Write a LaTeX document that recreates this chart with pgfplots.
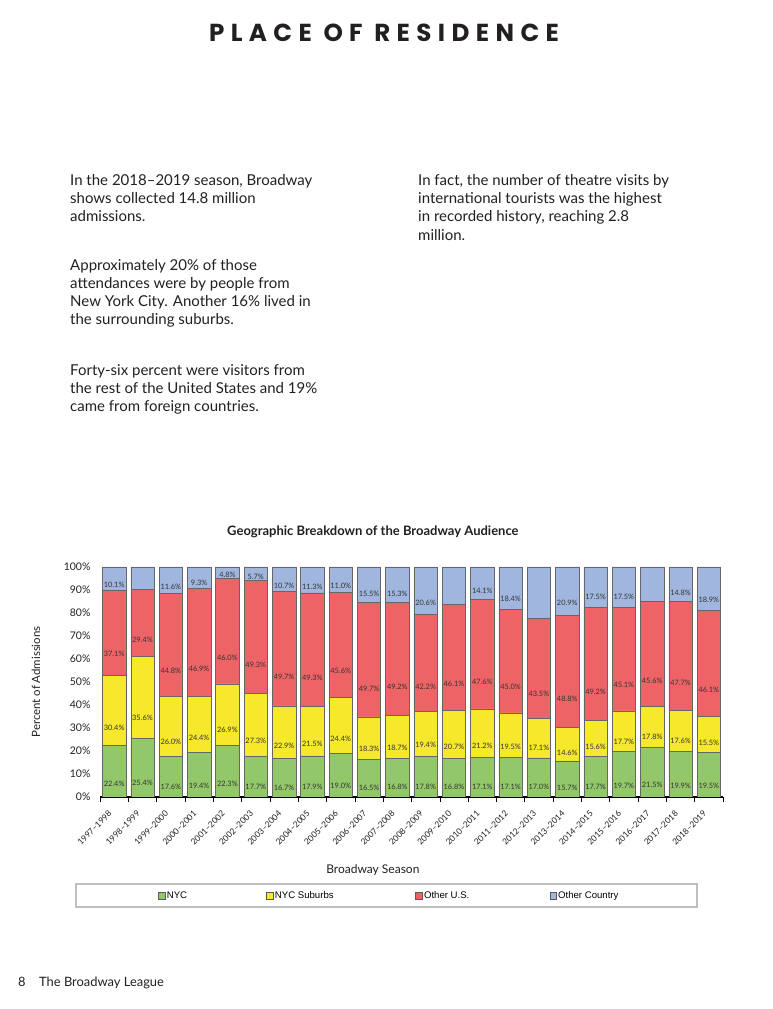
\documentclass[border=0pt]{standalone}
\usepackage{fontspec}
\setmainfont{Lato}
\newfontfamily\titlefont{Poppins}[LetterSpace=26]
\newfontfamily\arialfont{Liberation Sans}
\usepackage{pgfplots}
\usepackage{pgfplotstable}
\pgfplotsset{compat=1.18}

\definecolor{cNYC}{RGB}{146,200,106}
\definecolor{cSub}{RGB}{246,232,42}
\definecolor{cUS}{RGB}{238,100,102}
\definecolor{cOC}{RGB}{160,182,222}
\definecolor{txt}{RGB}{35,31,32}

% share of admissions, percent
\pgfplotstableread{
idx season     nyc  sub  us   oc
0   1997--1998 22.4 30.4 37.1 10.1
1   1998--1999 25.4 35.6 29.4 9.7
2   1999--2000 17.6 26.0 44.8 11.6
3   2000--2001 19.4 24.4 46.9 9.3
4   2001--2002 22.3 26.9 46.0 4.8
5   2002--2003 17.7 27.3 49.3 5.7
6   2003--2004 16.7 22.9 49.7 10.7
7   2004--2005 17.9 21.5 49.3 11.3
8   2005--2006 19.0 24.4 45.6 11.0
9   2006--2007 16.5 18.3 49.7 15.5
10  2007--2008 16.8 18.7 49.2 15.3
11  2008--2009 17.8 19.4 42.2 20.6
12  2009--2010 16.8 20.7 46.1 16.5
13  2010--2011 17.1 21.2 47.6 14.1
14  2011--2012 17.1 19.5 45.0 18.4
15  2012--2013 17.0 17.1 43.5 22.5
16  2013--2014 15.7 14.6 48.8 20.9
17  2014--2015 17.7 15.6 49.2 17.5
18  2015--2016 19.7 17.7 45.1 17.5
19  2016--2017 21.5 17.8 45.6 15.2
20  2017--2018 19.9 17.6 47.7 14.8
21  2018--2019 19.5 15.5 46.1 18.9
}\residence

\pgfplotsset{
  seg/.style={
    fill=#1, draw=black!60, line width=0.5pt,
  },
  lab/.style={
    visualization depends on={\thisrow{#1}\as\rawy},
    nodes near coords={\pgfmathprintnumber[fixed,fixed zerofill,precision=1]{\rawy}\%},
    every node near coord/.style={
      font=\fontsize{7.4}{8}\selectfont, text=black!80, anchor=center,
      inner sep=0pt, shift={(axis direction cs:0,-\rawy/4)}},
  },
}

\begin{document}
\begin{tikzpicture}[x=1pt,y=1pt]
\useasboundingbox (0,0) rectangle (772,1009);

\node[anchor=base, text=txt, font=\titlefont\bfseries\fontsize{24.6}{28}\selectfont]
  at (384,967) {PLACE OF RESIDENCE};

\begin{scope}[every node/.style={anchor=base west, inner sep=0pt, text=txt,
    font=\fontsize{15}{18}\selectfont}]
  \node at (70,823) {In the 2018--2019 season, Broadway};
  \node at (70,805) {shows collected 14.8 million};
  \node at (70,787) {admissions.};
  \node at (70,738) {Approximately 20\% of those};
  \node at (70,720) {attendances were by people from};
  \node at (70,702) {New York City. Another 16\% lived in};
  \node at (70,684) {the surrounding suburbs.};
  \node at (70,633) {Forty-six percent were visitors from};
  \node at (70,615) {the rest of the United States and 19\%};
  \node at (70,597) {came from foreign countries.};
  \node at (418,823) {In fact, the number of theatre visits by};
  \node at (418,805) {international tourists was the highest};
  \node at (418,787) {in recorded history, reaching 2.8};
  \node at (418,768) {million.};
\end{scope}

\begin{axis}[
  at={(100pt,212pt)}, anchor=south west,
  scale only axis, width=623pt, height=230pt,
  ybar stacked, bar width=23.4pt,
  xmin=-0.5, xmax=21.5, ymin=0, ymax=100,
  axis x line*=bottom, axis y line*=left,
  x axis line style={-, black, line width=1.8pt},
  y axis line style={draw=none},
  xtick={0,...,21},
  xticklabels from table={\residence}{season},
  major x tick style={draw=none},
  minor xtick={-0.5,0.5,...,21.5},
  minor x tick style={black, line width=0.6pt},
  minor tick length=5pt,
  xtick align=outside,
  x tick label style={xshift=-4pt, yshift=-11pt, rotate=45, anchor=east, inner sep=0pt,
    font=\fontsize{8.4}{9}\selectfont, text=txt},
  ytick={0,10,...,100},
  yticklabel={\pgfmathprintnumber{\tick}\%},
  major y tick style={draw=none},
  y tick label style={xshift=-6pt, font=\fontsize{10.5}{12}\selectfont, text=txt},
  /pgf/number format/assume math mode=true,
  title={Geographic Breakdown of the Broadway Audience},
  title style={at={(axis description cs:0.438,1)}, anchor=center, yshift=29pt,
    font=\bfseries\fontsize{13}{15}\selectfont, text=txt},
  xlabel={Broadway Season},
  xlabel style={at={(axis description cs:0.438,0)}, anchor=center, yshift=-73pt,
    font=\fontsize{12}{14}\selectfont, text=txt},
  ylabel={Percent of Admissions},
  ylabel style={at={(axis description cs:-0.1027,0.5)}, anchor=center,
    font=\fontsize{11.4}{13}\selectfont, text=txt},
  legend columns=4,
  legend style={at={(axis description cs:0.0884,0)}, anchor=west, yshift=-99pt,
    draw=none, fill=none, font=\arialfont\fontsize{9.6}{11}\selectfont,
    /tikz/every even column/.append style={column sep=0pt},
    nodes={inner xsep=1.5pt}},
  legend cell align=left,
  legend image code/.code={\draw[#1, draw=black!65, line width=0.5pt] (0pt,-3.3pt) rectangle (6.6pt,3.3pt);},
]
\addplot[seg=cNYC, lab=nyc] table[x=idx, y=nyc]{\residence};
\addplot[seg=cSub, lab=sub] table[x=idx, y=sub]{\residence};
\addplot[seg=cUS,  lab=us]  table[x=idx, y=us]{\residence};
\addplot[seg=cOC,  lab=oc]  table[x=idx, y=oc]{\residence};
\addlegendentry{\makebox[98pt][l]{NYC}}
\addlegendentry{\makebox[139pt][l]{NYC Suburbs}}
\addlegendentry{\makebox[124pt][l]{Other U.S.}}
\addlegendentry{Other Country}
\end{axis}

\draw[black!25, line width=1.2pt] (76,102) rectangle (697,125);

\node[anchor=base west, inner sep=0pt, text=txt, font=\fontsize{12.9}{15}\selectfont] at (18,23) {8};
\node[anchor=base west, inner sep=0pt, text=txt, font=\fontsize{12.9}{15}\selectfont] at (39,23) {The Broadway League};
\end{tikzpicture}
\end{document}
